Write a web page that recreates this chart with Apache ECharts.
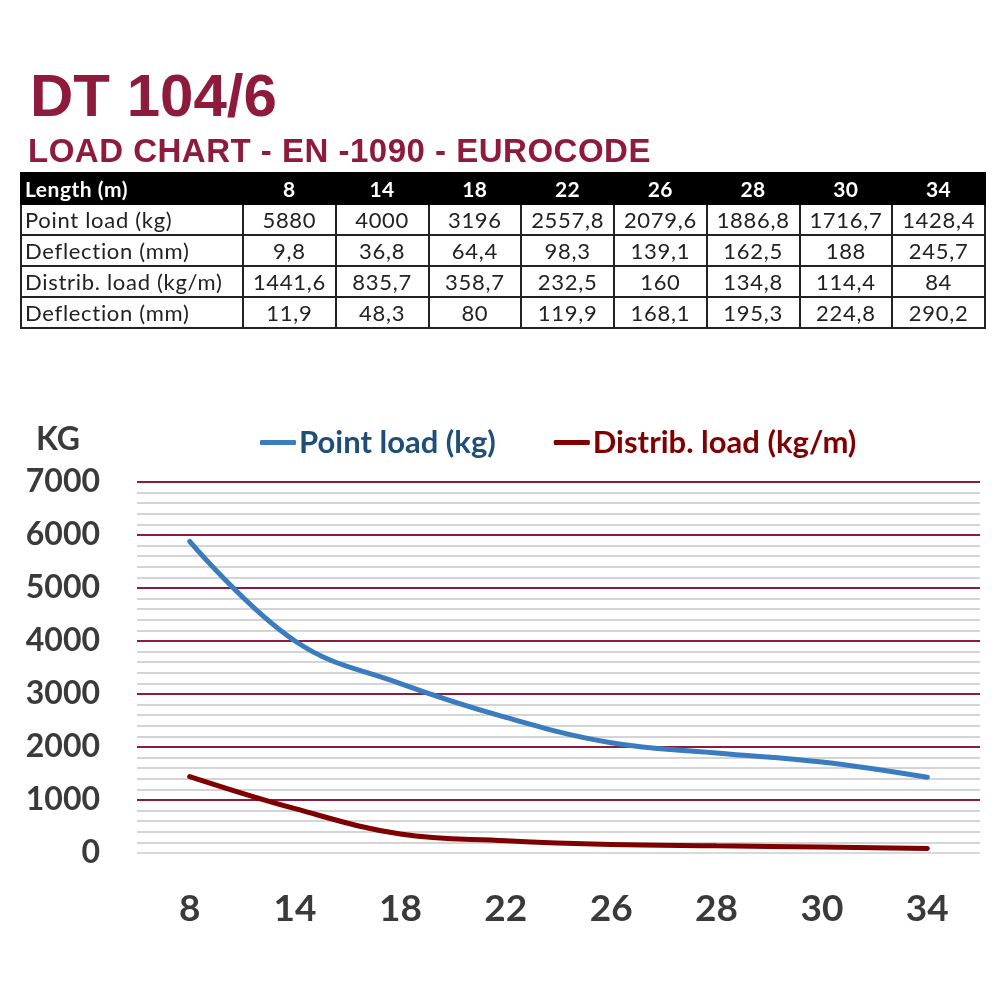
<!DOCTYPE html>
<html lang="en">
<head>
    <meta charset="UTF-8">
    <title>DT 104/6 load chart</title>
    <script src="https://cdn.jsdelivr.net/npm/echarts@6/dist/echarts.min.js"></script>
    <style>
        body { margin: 0; background: #fff; }
        #page { position: relative; width: 1000px; height: 1000px; overflow: hidden; }
        #chart_div { position: absolute; left: 0; top: 0; width: 1000px; height: 1000px; }
        .hd { position: absolute; font-family: "Liberation Sans", Arial, sans-serif; font-weight: bold; color: #8e1b3b; white-space: nowrap; }
        #t1 { left: 30px; top: 61px; font-size: 60px; }
        #t2 { left: 28px; top: 132px; font-size: 33px; letter-spacing: 0.5px; }
        #tbl { position: absolute; left: 20px; top: 172px; width: 966px; border-collapse: collapse;
               font-family: Lato, "Open Sans", sans-serif; font-size: 22px; letter-spacing: 0.7px; color: #222; table-layout: fixed; }
        #tbl td, #tbl th { border: 2px solid #222; height: 29px; padding: 0 3px; text-align: center; white-space: nowrap; }
        #tbl th { background: #000; color: #fff; font-weight: bold; border-color: #000; font-size: 21px; letter-spacing: 0.5px; }
        #tbl td:first-child, #tbl th:first-child { text-align: left; }
    </style>
</head>
<body>
<div id="page">
    <div id="chart_div"></div>
    <div class="hd" id="t1">DT 104/6</div>
    <div class="hd" id="t2">LOAD CHART - EN -1090 - EUROCODE</div>
    <table id="tbl"></table>
</div>
<script type="text/javascript">

    var lengths = ['8', '14', '18', '22', '26', '28', '30', '34'];
    var pointLoad = [5880, 4000, 3196, 2557.8, 2079.6, 1886.8, 1716.7, 1428.4];
    var pointDefl = [9.8, 36.8, 64.4, 98.3, 139.1, 162.5, 188, 245.7];
    var distLoad = [1441.6, 835.7, 358.7, 232.5, 160, 134.8, 114.4, 84];
    var distDefl = [11.9, 48.3, 80, 119.9, 168.1, 195.3, 224.8, 290.2];
    var yTicks = [0, 1000, 2000, 3000, 4000, 5000, 6000, 7000];

    // table, numbers written with comma decimals like the sheet
    function fmt(v) { return String(v).replace('.', ','); }
    var rows = [
        ['Point load (kg)', pointLoad],
        ['Deflection (mm)', pointDefl],
        ['Distrib. load (kg/m)', distLoad],
        ['Deflection (mm)', distDefl]
    ];
    var html = '<colgroup><col style="width:222px">';
    for (var i = 0; i < lengths.length; i++) html += '<col>';
    html += '</colgroup><tr><th>Length (m)</th>';
    for (i = 0; i < lengths.length; i++) html += '<th>' + lengths[i] + '</th>';
    html += '</tr>';
    for (var r = 0; r < rows.length; r++) {
        html += '<tr><td>' + rows[r][0] + '</td>';
        for (i = 0; i < rows[r][1].length; i++) html += '<td>' + fmt(rows[r][1][i]) + '</td>';
        html += '</tr>';
    }
    document.getElementById('tbl').innerHTML = html;

    var red = '#8e1b3b';
    var gridColors = yTicks.map(function (v) { return v === 0 ? '#d9d9d9' : red; });

    var chart = echarts.init(document.getElementById('chart_div'));
    var options = {
        animation: false,
        textStyle: { fontFamily: 'Lato, "Open Sans", sans-serif' },
        graphic: [{
            type: 'text', left: 36, top: 424,
            style: { text: 'KG', font: 'bold 32px Lato, "Open Sans", sans-serif', fill: '#3a3a3a' }
        }],
        legend: {
            left: 255, top: 422,
            itemWidth: 36, itemHeight: 5, itemGap: 58,
            icon: 'roundRect',
            textStyle: { fontSize: 31, fontWeight: 'bold', padding: [0, 0, 0, -2] },
            data: [
                { name: 'Point load (kg)', textStyle: { color: '#1f4e79' } },
                { name: 'Distrib. load (kg/m)', textStyle: { color: '#7f0000' } }
            ]
        },
        grid: { left: 137, right: 20, top: 482, bottom: 147 },
        xAxis: {
            type: 'category',
            data: lengths,
            boundaryGap: true,
            axisLine: { show: false },
            axisTick: { show: false },
            axisLabel: { fontSize: 37, fontWeight: 'bold', color: '#3a3a3a', margin: 38 }
        },
        yAxis: {
            type: 'value',
            min: 0, max: 7000, interval: 1000,
            axisLine: { show: false },
            axisTick: { show: false },
            axisLabel: {
                fontSize: 32, fontWeight: 'bold', color: '#3a3a3a', margin: 37,
                formatter: function (v) { return String(v); }
            },
            splitLine: { lineStyle: { color: gridColors, width: 2 } },
            minorTick: { show: false, splitNumber: 5 },
            minorSplitLine: { show: true, lineStyle: { color: '#d4d4d4', width: 2 } }
        },
        series: [
            {
                name: 'Point load (kg)', type: 'line', data: pointLoad,
                smooth: 0.4, symbol: 'none',
                lineStyle: { width: 5, color: '#3b7cc0', cap: 'round' },
                itemStyle: { color: '#3b7cc0' }
            },
            {
                name: 'Distrib. load (kg/m)', type: 'line', data: distLoad,
                smooth: 0.4, symbol: 'none',
                lineStyle: { width: 5, color: '#7f0000', cap: 'round' },
                itemStyle: { color: '#7f0000' }
            }
        ]
    };
    chart.setOption(options);

</script>
</body>
</html>
